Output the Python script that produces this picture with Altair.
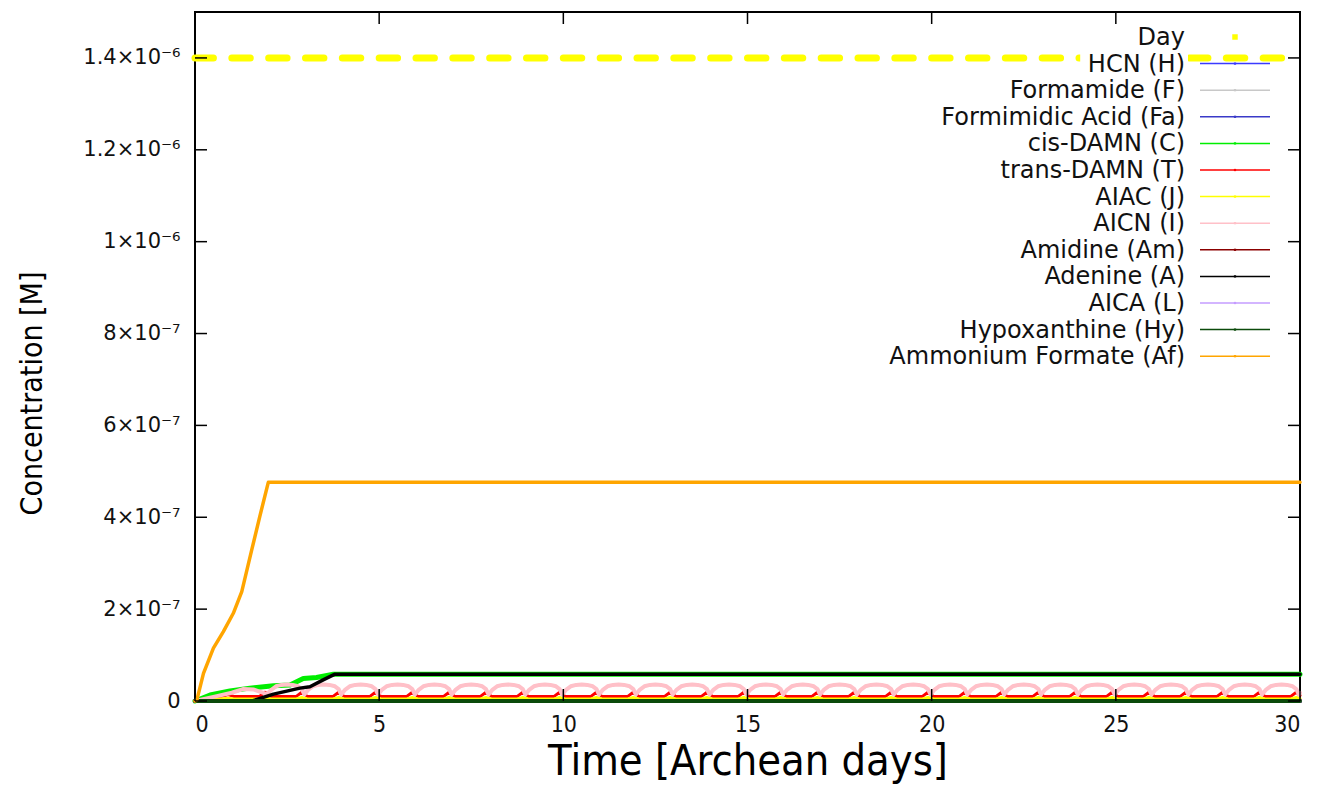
import altair as alt
import pandas as pd

# ---- axis ticks -------------------------------------------------------------
X_TICKS = [0, 5, 10, 15, 20, 25, 30]
Y_TICKS = [0, 2e-7, 4e-7, 6e-7, 8e-7, 1.0e-6, 1.2e-6, 1.4e-6]

# ---- daylight marker: start of each lit interval (days), lit length, level --
DAY_STARTS = list(range(30))
DAY_LENGTH = 0.5
DAY_LEVEL = 1.4e-6

# ---- monotone series: time (days) / concentration (M) -----------------------
AF_T = [0.0, 0.05, 0.23, 0.5, 0.77, 1.04, 1.27, 1.54, 1.76, 1.99, 30.0]
AF_V = [0.0, 0.2e-8, 6.0e-8, 1.15e-7, 1.51e-7, 1.91e-7, 2.38e-7, 3.29e-7, 4.02e-7, 4.76e-7, 4.76e-7]

CIS_T = [0.0, 0.41, 0.95, 1.49, 2.13, 2.58, 2.94, 3.3, 3.76, 30.0]
CIS_V = [0.0, 1.3e-8, 2.2e-8, 2.8e-8, 3.3e-8, 3.5e-8, 4.9e-8, 5.1e-8, 5.85e-8, 5.85e-8]

ADE_T = [0.0, 1.55, 2.13, 2.85, 3.12, 3.48, 3.8, 30.0]
ADE_V = [0.0, 0.0, 1.5e-8, 2.8e-8, 3.1e-8, 4.6e-8, 5.85e-8, 5.85e-8]

ZERO_T = [0.0, 30.0]
ZERO_V = [0.0, 0.0]

# ---- diurnal series: start-up segment, then one daily cycle per day ---------
AICN_EARLY_T = [0.0, 0.5, 1.0, 1.3, 1.6, 1.95]
AICN_EARLY_V = [0.0, 0.9e-8, 1.8e-8, 2.6e-8, 2.5e-8, 1.5e-8]
AICN_CYCLE_OFF = [0.08, 0.2, 0.35, 0.5, 0.65, 0.8, 0.9, 0.97]
AICN_CYCLE_V = [2.5e-8, 3.2e-8, 3.5e-8, 3.6e-8, 3.5e-8, 3.2e-8, 2.6e-8, 1.4e-8]
AICN_FIRST_DAY = 2
AICN_END = (30.0, 1.8e-8)

TRANS_EARLY_T = [0.0, 0.5, 0.9]
TRANS_EARLY_V = [0.0, 0.5e-8, 1.4e-8]
TRANS_CYCLE_OFF = [0.05, 0.75, 0.9]
TRANS_CYCLE_V = [1.0e-8, 1.0e-8, 1.9e-8]
TRANS_FIRST_DAY = 1
TRANS_END = (30.0, 1.2e-8)

AIAC_EARLY_T = [0.0, 0.9]
AIAC_EARLY_V = [0.0, 0.6e-8]
AIAC_CYCLE_OFF = [0.05, 0.75, 0.9]
AIAC_CYCLE_V = [0.45e-8, 0.45e-8, 0.8e-8]
AIAC_FIRST_DAY = 1
AIAC_END = (30.0, 0.5e-8)

# ---- series names and colours (drawing order) -------------------------------
NAMES = ["Day", "HCN (H)", "Formamide (F)", "Formimidic Acid (Fa)", "cis-DAMN (C)",
         "trans-DAMN (T)", "AIAC (J)", "AICN (I)", "Amidine (Am)", "Adenine (A)",
         "AICA (L)", "Hypoxanthine (Hy)", "Ammonium Formate (Af)"]
COLORS = ["#ffff00", "#3b3bff", "#c8c8c8", "#3a3ac8", "#00ee00",
          "#ff0000", "#ffff00", "#ffc0c8", "#8b0000", "#000000",
          "#c59cff", "#0b4a0b", "#ffa500"]
WIDTHS = [7, 4, 4, 4, 5, 3, 3, 4, 4, 3.5, 4, 4, 3.5]

W, H = 1105, 689
FONT = "DejaVu Sans"
TITLE_FONT = "DejaVu Sans Condensed, Liberation Sans"


def cyclic(early_t, early_v, first_day, offsets, values, end):
    t, v = list(early_t), list(early_v)
    for day in range(first_day, 30):
        t += [day + o for o in offsets]
        v += list(values)
    t.append(end[0])
    v.append(end[1])
    return t, v


series = {
    "HCN (H)": (ZERO_T, ZERO_V),
    "Formamide (F)": (ZERO_T, ZERO_V),
    "Formimidic Acid (Fa)": (ZERO_T, ZERO_V),
    "cis-DAMN (C)": (CIS_T, CIS_V),
    "trans-DAMN (T)": cyclic(TRANS_EARLY_T, TRANS_EARLY_V, TRANS_FIRST_DAY,
                             TRANS_CYCLE_OFF, TRANS_CYCLE_V, TRANS_END),
    "AIAC (J)": cyclic(AIAC_EARLY_T, AIAC_EARLY_V, AIAC_FIRST_DAY,
                       AIAC_CYCLE_OFF, AIAC_CYCLE_V, AIAC_END),
    "AICN (I)": cyclic(AICN_EARLY_T, AICN_EARLY_V, AICN_FIRST_DAY,
                       AICN_CYCLE_OFF, AICN_CYCLE_V, AICN_END),
    "Amidine (Am)": (ZERO_T, ZERO_V),
    "Adenine (A)": (ADE_T, ADE_V),
    "AICA (L)": (ZERO_T, ZERO_V),
    "Hypoxanthine (Hy)": (ZERO_T, ZERO_V),
    "Ammonium Formate (Af)": (AF_T, AF_V),
}

x_scale = alt.Scale(domain=[0, 30], nice=False, zero=False)
y_scale = alt.Scale(domain=[0, 1.5e-6], nice=False)

x_axis = alt.Axis(values=X_TICKS, ticks=False, tickSize=0, domain=False, grid=False,
                  labelFont=TITLE_FONT, labelFontSize=23, labelColor="#111",
                  labelPadding=12, labelBaseline="top",
                  title="Time [Archean days]", titleFont=TITLE_FONT, titleFontSize=43,
                  titleFontWeight="normal", titleColor="#000", titleBaseline="alphabetic",
                  titleY=73)
y_label_expr = ("datum.value == 0 ? '0' : (datum.value < 0.95e-6 ? "
                "format(datum.value * 1e7, '.0f') + '×10⁻⁷' : "
                "format(datum.value * 1e6, '.1~f') + '×10⁻⁶')")
y_axis = alt.Axis(values=Y_TICKS, ticks=False, tickSize=0, domain=False, grid=False,
                  labelFont=FONT, labelFontSize=21, labelColor="#111", labelPadding=15,
                  labelExpr=y_label_expr,
                  title="Concentration [M]", titleFont=TITLE_FONT, titleFontSize=30,
                  titleFontWeight="normal", titleColor="#000", titleAngle=-90,
                  titleX=-163, titleY=381, titleAlign="center", titleBaseline="middle")

X = alt.X("t:Q", scale=x_scale, axis=x_axis)
Y = alt.Y("v:Q", scale=y_scale, axis=y_axis)

layers = []

# daylight intervals as thick rounded dashes
day_df = pd.DataFrame({"t": DAY_STARTS,
                       "t2": [s + DAY_LENGTH for s in DAY_STARTS],
                       "v": [DAY_LEVEL] * len(DAY_STARTS)})
layers.append(alt.Chart(day_df).mark_rule(color=COLORS[0], strokeWidth=WIDTHS[0],
                                           strokeCap="round")
              .encode(x=X, x2="t2:Q", y=Y))

# concentration curves
for name, color, width in zip(NAMES[1:], COLORS[1:], WIDTHS[1:]):
    t, v = series[name]
    df = pd.DataFrame({"t": t, "v": v})
    layers.append(alt.Chart(df).mark_line(color=color, strokeWidth=width,
                                           strokeJoin="round", strokeCap="round")
                  .encode(x=X, y=Y))

# inward tick marks on all four sides
xt = pd.DataFrame({"t": X_TICKS})
yt = pd.DataFrame({"v": Y_TICKS})
TICK = 12
layers.append(alt.Chart(xt).mark_rule(color="black", strokeWidth=1.5)
              .encode(x=X, y=alt.value(H), y2=alt.value(H - TICK)))
layers.append(alt.Chart(xt).mark_rule(color="black", strokeWidth=1.5)
              .encode(x=X, y=alt.value(0), y2=alt.value(TICK)))
layers.append(alt.Chart(yt).mark_rule(color="black", strokeWidth=1.5)
              .encode(y=Y, x=alt.value(0), x2=alt.value(TICK)))
layers.append(alt.Chart(yt).mark_rule(color="black", strokeWidth=1.5)
              .encode(y=Y, x=alt.value(W - TICK), x2=alt.value(W)))

# key in the upper right corner: label, then a short sample of the line
KEY_RIGHT = 990
KEY_LINE = (1005, 1075)
KEY_TOP = 25
KEY_STEP = 26.6
KEY_FS = 24
for i, (name, color) in enumerate(zip(NAMES, COLORS)):
    py = KEY_TOP + KEY_STEP * i
    one = pd.DataFrame({"label": [name]})
    est_w = len(name) * KEY_FS * 0.6
    layers.append(alt.Chart(one).mark_rect(color="white")
                  .encode(x=alt.value(KEY_RIGHT - est_w - 4), x2=alt.value(KEY_RIGHT + 3),
                          y=alt.value(py - 10), y2=alt.value(py + 10)))
    layers.append(alt.Chart(one).mark_text(align="right", baseline="middle", font=FONT,
                                            fontSize=KEY_FS, color="#111")
                  .encode(x=alt.value(KEY_RIGHT), y=alt.value(py + 1), text="label:N"))
    mid = (KEY_LINE[0] + KEY_LINE[1]) / 2
    if name == "Day":
        layers.append(alt.Chart(one).mark_square(color=color, size=30, opacity=1)
                      .encode(x=alt.value(mid), y=alt.value(py)))
    else:
        layers.append(alt.Chart(one).mark_rule(color=color, strokeWidth=1.5)
                      .encode(x=alt.value(KEY_LINE[0]), x2=alt.value(KEY_LINE[1]),
                              y=alt.value(py)))
        layers.append(alt.Chart(one).mark_square(color=color, size=5, opacity=1)
                      .encode(x=alt.value(mid), y=alt.value(py)))

chart = (alt.layer(*layers)
         .properties(width=W, height=H,
                     autosize=alt.AutoSizeParams(type="none"),
                     padding={"left": 195, "top": 12, "right": 21, "bottom": 84},
                     background="white")
         .configure_view(stroke="black", strokeWidth=2))

chart.save("out.html", embed_options={"renderer": "svg", "actions": False})
